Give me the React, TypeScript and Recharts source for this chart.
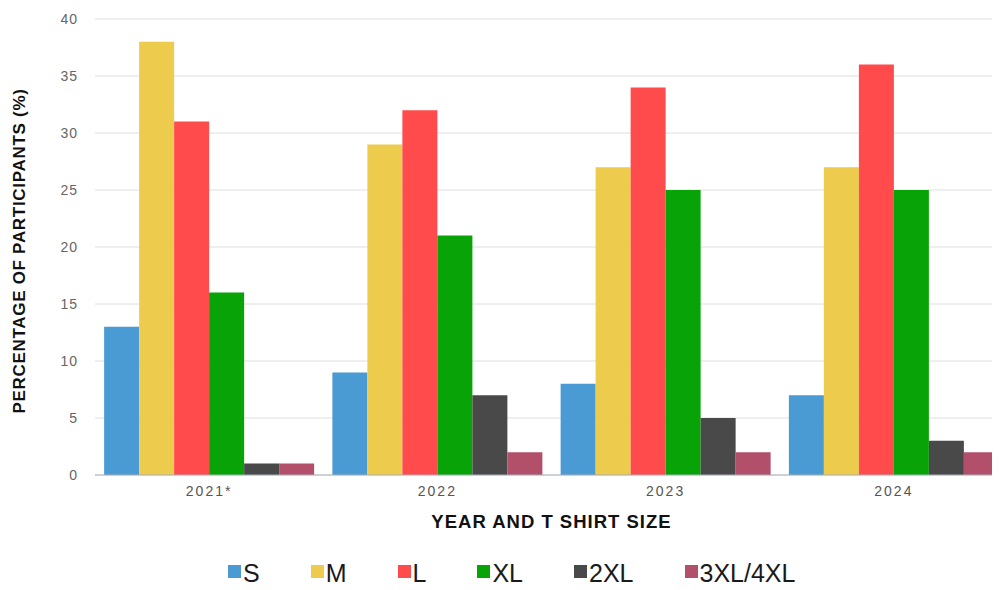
import React from "react";
import { BarChart, Bar, XAxis, YAxis, CartesianGrid, Legend } from "recharts";

const categories = ["2021*", "2022", "2023", "2024"];
const sizes = ["S", "M", "L", "XL", "2XL", "3XL/4XL"];
const sValues = [13, 9, 8, 7];
const mValues = [38, 29, 27, 27];
const lValues = [31, 32, 34, 36];
const xlValues = [16, 21, 25, 25];
const xxlValues = [1, 7, 5, 3];
const xxxlValues = [1, 2, 2, 2];
const yTicks = [0, 5, 10, 15, 20, 25, 30, 35, 40];
const colors = ["#4A9AD4", "#EDCB4D", "#FF4B4B", "#07A307", "#494949", "#B24F6B"];

const seriesValues = [sValues, mValues, lValues, xlValues, xxlValues, xxxlValues];
const data = categories.map((c, i) => {
  const row: Record<string, string | number> = { year: c };
  sizes.forEach((s, j) => {
    row[s] = seriesValues[j][i];
  });
  return row;
});

const FONT = '"Liberation Sans", Arial, Helvetica, sans-serif';

const YLabel = (props: any) => {
  const vb = props.viewBox || { x: 0, y: 0, width: 0, height: 0 };
  const x = vb.x + 25;
  const y = 251;
  return (
    <text
      x={x}
      y={y}
      transform={`rotate(-90, ${x}, ${y})`}
      textAnchor="middle"
      fontFamily={FONT}
      fontWeight="bold"
      fontSize={17}
      letterSpacing={0.7}
      fill="#111"
    >
      PERCENTAGE OF PARTICIPANTS (%)
    </text>
  );
};

const XLabel = (props: any) => {
  const vb = props.viewBox || { x: 0, y: 0, width: 0, height: 0 };
  const x = vb.x + vb.width / 2;
  return (
    <text x={x} y={528} textAnchor="middle" fontFamily={FONT} fontWeight="bold" fontSize={18.5} letterSpacing={1} fill="#111">
      YEAR AND T SHIRT SIZE
    </text>
  );
};

const LegendContent = () => (
  <div
    style={{
      height: 34,
      display: "flex",
      alignItems: "center",
      paddingLeft: 228,
      fontFamily: FONT,
      fontSize: 25,
      color: "#1a1a1a",
      lineHeight: "34px",
    }}
  >
    {sizes.map((s, i) => (
      <div key={s} style={{ display: "flex", alignItems: "center", marginRight: 51 }}>
        <div style={{ width: 13, height: 13, background: colors[i], marginRight: 2, marginTop: -3 }} />
        <span>{s}</span>
      </div>
    ))}
  </div>
);

export default function App() {
  return (
    <div style={{ margin: -8, width: 1000, height: 590, overflow: "hidden", background: "#fff", position: "relative" }}>
      <BarChart
        width={1010}
        height={590}
        data={data}
        margin={{ top: 19, right: 2, bottom: 26, left: 0 }}
        barCategoryGap="4%"
        barGap={0}
      >
        <XAxis
          dataKey="year"
          height={55}
          tickLine={false}
          tickSize={0}
          tickMargin={11}
          stroke="#aab0bb"
          tick={{ fill: "#555", fontSize: 14, fontFamily: FONT, letterSpacing: 2 }}
          label={<XLabel />}
        />
        <YAxis
          width={95}
          domain={[0, 40]}
          ticks={yTicks}
          axisLine={false}
          tickLine={false}
          tickSize={0}
          tickMargin={17}
          tick={{ fill: "#666", fontSize: 14, fontFamily: FONT, letterSpacing: 1 }}
          label={<YLabel />}
        />
        {sizes.map((s, i) => (
          <Bar key={s} dataKey={s} fill={colors[i]} isAnimationActive={false} />
        ))}
        <CartesianGrid vertical={false} stroke="#c8c8c8" strokeOpacity={0.6} />
        <Legend
          verticalAlign="bottom"
          content={<LegendContent />}
          wrapperStyle={{ left: 0, top: 556, bottom: "auto", width: 1010 }}
        />
      </BarChart>
    </div>
  );
}
